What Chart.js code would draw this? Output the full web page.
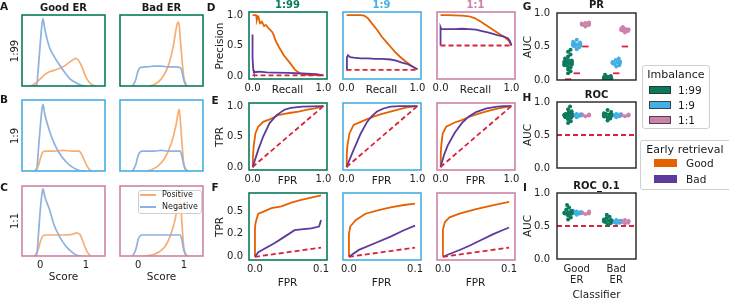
<!DOCTYPE html>
<html><head><meta charset="utf-8">
<script src="https://cdn.jsdelivr.net/npm/chart.js@4/dist/chart.umd.min.js"></script>
<style>
html,body{margin:0;padding:0;background:#fff}
body{width:729px;height:299px;position:relative;overflow:hidden;font-family:'DejaVu Sans',sans-serif}
canvas{position:absolute}
.t{position:absolute;white-space:nowrap;color:#1a1a1a;line-height:1}
.lg{position:absolute;border:1px solid #cfcfcf;border-radius:3px;background:rgba(255,255,255,0.85);box-sizing:border-box}
.pt{position:absolute;box-sizing:border-box}
</style></head><body>
<script>
// ---------------- DATA ----------------
const imbalances = ['1:99', '1:9', '1:1'];
const classifiers = ['Good ER', 'Bad ER'];
const retrieval = ['Good', 'Bad'];
const scoreTicks = [0, 1];

// A-C: score distributions (x = score, y = relative density)
const negGood99X = [-0.14,-0.08,-0.04,0.0,0.04,0.06,0.1,0.2,0.3,0.42,0.55,0.65,0.8,0.9,1.0];
const negGood99Y = [0,0.01,0.27,0.6,0.88,0.95,0.8,0.55,0.42,0.3,0.18,0.1,0.04,0.01,0];
const posGood99X = [-0.2,-0.1,0.0,0.1,0.2,0.3,0.43,0.55,0.65,0.72,0.78,0.83,0.9,1.0,1.08,1.16,1.22];
const posGood99Y = [0,0.04,0.1,0.16,0.2,0.22,0.25,0.29,0.34,0.37,0.39,0.37,0.29,0.13,0.05,0.01,0];
const negBad99X = [-0.12,-0.05,0.0,0.05,0.2,0.35,0.5,0.65,0.8,0.92,0.96,1.0,1.05];
const negBad99Y = [0,0.1,0.22,0.26,0.27,0.28,0.28,0.27,0.27,0.26,0.2,0.08,0];
const posBad99X = [0.25,0.35,0.45,0.55,0.65,0.72,0.78,0.83,0.87,0.9,0.93,0.97,1.0,1.05,1.1];
const posBad99Y = [0,0.02,0.06,0.14,0.27,0.42,0.6,0.8,0.9,0.85,0.6,0.3,0.12,0.02,0];

const negGood9X = [-0.14,-0.08,-0.04,0.0,0.04,0.06,0.1,0.2,0.3,0.42,0.55,0.65,0.8,0.9,1.0];
const negGood9Y = [0,0.01,0.3,0.62,0.88,0.94,0.8,0.57,0.4,0.25,0.14,0.08,0.02,0,0];
const posGood9X = [-0.12,-0.04,0.0,0.05,0.1,0.3,0.5,0.7,0.85,0.92,1.0,1.08,1.12];
const posGood9Y = [0,0.08,0.17,0.26,0.28,0.28,0.29,0.28,0.28,0.22,0.1,0.02,0];
const negBad9X = [-0.12,-0.05,0.0,0.08,0.2,0.35,0.5,0.65,0.8,0.92,0.96,1.0,1.05];
const negBad9Y = [0,0.1,0.22,0.28,0.28,0.28,0.29,0.28,0.28,0.28,0.2,0.08,0];
const posBad9X = [0.2,0.3,0.45,0.58,0.72,0.82,0.87,0.9,0.93,0.97,1.0,1.05,1.1];
const posBad9Y = [0,0.02,0.08,0.18,0.38,0.62,0.8,0.87,0.65,0.3,0.1,0.02,0];

const negGood1X = [-0.14,-0.08,-0.04,0.0,0.04,0.06,0.1,0.2,0.3,0.42,0.55,0.65,0.8,0.9];
const negGood1Y = [0,0.01,0.3,0.65,0.9,0.96,0.85,0.67,0.45,0.28,0.15,0.08,0.01,0];
const posGood1X = [-0.12,-0.04,0.0,0.05,0.1,0.3,0.5,0.7,0.8,0.88,0.95,1.02,1.1];
const posGood1Y = [0,0.1,0.2,0.28,0.3,0.3,0.3,0.31,0.33,0.3,0.18,0.07,0];
const negBad1X = [-0.12,-0.05,0.0,0.08,0.2,0.35,0.5,0.65,0.8,0.92,0.96,1.0,1.05];
const negBad1Y = [0,0.1,0.24,0.3,0.3,0.3,0.3,0.3,0.3,0.3,0.22,0.08,0];
const posBad1X = [0.15,0.37,0.58,0.72,0.82,0.87,0.9,0.93,0.97,1.0,1.05,1.1];
const posBad1Y = [0,0.03,0.13,0.32,0.56,0.78,0.9,0.75,0.35,0.12,0.02,0];

// D: precision-recall curves
const prGood99R = [0,0.05,0.06,0.07,0.083,0.1,0.107,0.13,0.15,0.163,0.19,0.227,0.274,0.297,0.32,0.37,0.44,0.53,0.6,0.67,0.77,0.9,1.0];
const prGood99P = [1,1,0.92,0.96,0.974,0.88,0.864,0.89,0.85,0.82,0.836,0.78,0.727,0.674,0.59,0.48,0.34,0.21,0.1,0.04,0.02,0.012,0.01];
const prBad99R = [0,0,0.01,0.02,0.05,0.1,0.2,0.3,0.5,0.7,0.9,1.0];
const prBad99P = [0.68,0.3,0.1,0.06,0.065,0.07,0.06,0.055,0.05,0.04,0.03,0.01];
const prGood9R = [0,0.1,0.2,0.25,0.3,0.36,0.43,0.5,0.56,0.62,0.68,0.75,0.82,0.9,0.95,1.0];
const prGood9P = [1,1,1,0.99,0.95,0.86,0.76,0.64,0.56,0.48,0.4,0.32,0.25,0.18,0.14,0.11];
const prBad9R = [0,0.005,0.02,0.05,0.1,0.2,0.3,0.4,0.5,0.62,0.7,0.78,0.85,0.92,1.0];
const prBad9P = [0.1,0.3,0.34,0.31,0.3,0.29,0.29,0.28,0.28,0.27,0.25,0.22,0.2,0.16,0.11];
const prGood1R = [0,0.1,0.2,0.3,0.4,0.48,0.57,0.66,0.75,0.83,0.9,0.96,1.0];
const prGood1P = [1,1,0.995,0.99,0.98,0.95,0.89,0.82,0.75,0.69,0.64,0.58,0.5];
const prBad1R = [0,0,0.01,0.1,0.2,0.3,0.4,0.5,0.57,0.68,0.8,0.88,0.95,0.98,1.0];
const prBad1P = [0.5,0.8,0.77,0.77,0.77,0.775,0.77,0.76,0.74,0.71,0.67,0.65,0.62,0.57,0.5];
const prBaseline = [0.01, 0.1, 0.5];

// E: ROC curves
const rocGood99F = [0,0.005,0.015,0.04,0.08,0.15,0.24,0.36,0.45,0.54,0.65,0.77,0.88,1.0];
const rocGood99T = [0,0.15,0.33,0.55,0.66,0.74,0.78,0.85,0.87,0.89,0.91,0.94,0.96,1.0];
const rocBad99F = [0,0.03,0.08,0.15,0.24,0.34,0.4,0.45,0.54,0.7,0.85,1.0];
const rocBad99T = [0,0.1,0.28,0.5,0.72,0.85,0.9,0.94,0.97,0.99,0.995,1.0];
const rocGood9F = [0,0.003,0.01,0.04,0.1,0.2,0.3,0.39,0.5,0.62,0.75,0.85,1.0];
const rocGood9T = [0,0.2,0.33,0.55,0.69,0.74,0.79,0.83,0.87,0.91,0.95,0.98,1.0];
const rocBad9F = [0,0.05,0.1,0.2,0.29,0.36,0.43,0.52,0.62,0.75,0.9,1.0];
const rocBad9T = [0,0.14,0.28,0.55,0.74,0.84,0.91,0.96,0.99,1.0,1.0,1.0];
const rocGood1F = [0,0.003,0.01,0.03,0.08,0.2,0.3,0.4,0.55,0.7,0.85,1.0];
const rocGood1T = [0,0.2,0.35,0.55,0.66,0.73,0.77,0.82,0.88,0.93,0.97,1.0];
const rocBad1F = [0,0.05,0.1,0.2,0.3,0.4,0.5,0.65,0.8,0.9,1.0];
const rocBad1T = [0,0.2,0.35,0.56,0.72,0.83,0.9,0.96,0.99,1.0,1.0];
const rocDiag = [0, 1];

// F: early ROC (FPR up to 0.1)
const eGood99F = [0,0,0.0005,0.002,0.005,0.012,0.025,0.04,0.055,0.07,0.09,0.1];
const eGood99T = [0,0.29,0.35,0.4,0.47,0.49,0.53,0.55,0.59,0.62,0.655,0.67];
const eBad99F = [0,0.005,0.015,0.03,0.045,0.06,0.07,0.085,0.097,0.1];
const eBad99T = [0,0.05,0.09,0.15,0.22,0.29,0.3,0.31,0.33,0.4];
const eGood9F = [0,0,0.002,0.01,0.025,0.045,0.063,0.083,0.1];
const eGood9T = [0,0.25,0.33,0.4,0.47,0.51,0.54,0.565,0.58];
const eBad9F = [0,0.015,0.04,0.063,0.083,0.1];
const eBad9T = [0,0.075,0.15,0.22,0.29,0.34];
const eGood1F = [0,0,0.003,0.01,0.025,0.05,0.075,0.1];
const eGood1T = [0,0.3,0.38,0.43,0.47,0.52,0.56,0.6];
const eBad1F = [0,0.01,0.027,0.04,0.057,0.077,0.09,0.1];
const eBad1T = [0,0.03,0.08,0.12,0.18,0.25,0.29,0.32];
const eDiag = [0, 0.1];
const eYTicks = [0, 0.25, 0.5];
const eYLabels = ['0.0', '0.2', '0.5'];

// G-I: AUC per replicate (per classifier, per imbalance)
const aucPR = {
  good: [[0.10,0.13,0.16,0.19,0.21,0.22,0.23,0.235,0.24,0.245,0.25,0.255,0.26,0.265,0.27,0.275,0.28,0.29,0.30,0.32,0.35,0.38,0.42,0.45],
         [0.46,0.49,0.5,0.51,0.52,0.52,0.53,0.53,0.54,0.54,0.55,0.56,0.57,0.6],
         [0.80,0.82,0.825,0.83,0.83,0.835,0.84,0.845,0.85,0.86]],
  bad:  [[0.0,0.01,0.015,0.02,0.02,0.025,0.03,0.035,0.04,0.05,0.06,0.08],
         [0.2,0.22,0.24,0.25,0.25,0.26,0.26,0.27,0.27,0.28,0.3,0.32],
         [0.71,0.73,0.74,0.745,0.75,0.75,0.755,0.76,0.77,0.79]]
};
const aucROC = {
  good: [[0.68,0.71,0.74,0.76,0.77,0.78,0.79,0.795,0.8,0.8,0.805,0.81,0.82,0.83,0.84,0.86,0.89,0.93],
         [0.77,0.79,0.795,0.8,0.8,0.805,0.81,0.82],
         [0.785,0.795,0.8,0.8,0.805,0.81,0.815]],
  bad:  [[0.72,0.75,0.77,0.78,0.79,0.795,0.8,0.8,0.805,0.81,0.82,0.83,0.85,0.88],
         [0.77,0.785,0.795,0.8,0.8,0.805,0.81,0.82],
         [0.785,0.795,0.8,0.8,0.805,0.81,0.815]]
};
const aucROC01 = {
  good: [[0.6,0.63,0.66,0.68,0.69,0.695,0.7,0.7,0.705,0.71,0.72,0.73,0.75,0.78,0.82],
         [0.67,0.69,0.695,0.7,0.7,0.705,0.71,0.72,0.73],
         [0.68,0.69,0.695,0.7,0.7,0.705,0.71,0.72]],
  bad:  [[0.52,0.54,0.56,0.57,0.575,0.58,0.58,0.585,0.59,0.6,0.62,0.64,0.67],
         [0.54,0.55,0.56,0.565,0.57,0.57,0.575,0.58,0.59],
         [0.54,0.55,0.56,0.565,0.57,0.575,0.58,0.59]]
};
const aucTicks = [0, 0.5, 1];
const rocChance = 0.5;

// ---------------- STYLE ----------------
const IMB_COL = ['#0b7a5c', '#45aee3', '#cc82aa'];
const ORANGE = '#e66100', PURPLE = '#5d3a9b', RED = '#d9233a';
const NEG_COL = '#8fb1e0', POS_COL = '#f7ae74';

Chart.defaults.font.family = "'DejaVu Sans', sans-serif";
Chart.defaults.font.size = 10;
Chart.defaults.color = '#222';

function pts(xs, ys) { return xs.map((x, i) => ({x: x, y: ys[i]})); }
function lineDs(xs, ys, color, extra) {
  return Object.assign({data: pts(xs, ys), showLine: true, borderColor: color, backgroundColor: color,
    borderWidth: 1.8, pointRadius: 0, fill: false, tension: 0}, extra || {});
}
function framePlugin(color, lw) {
  return {id: 'frame', afterDatasetsDraw(c) {
    const a = c.chartArea, x = c.ctx; x.save(); x.strokeStyle = color; x.lineWidth = lw;
    x.strokeRect(a.left, a.top, a.right - a.left, a.bottom - a.top); x.restore();
  }};
}
function makeChart(cfg) {
  const padL = 44, padR = 16, padT = 6, padB = 34;
  const [l, t, w, h] = cfg.box;
  const cv = document.createElement('canvas');
  cv.width = w + padL + padR; cv.height = h + padT + padB;
  cv.style.left = (l - padL) + 'px'; cv.style.top = (t - padT) + 'px';
  cv.style.width = cv.width + 'px'; cv.style.height = cv.height + 'px';
  document.body.appendChild(cv);
  function axis(a, isX) {
    const tv = a.ticks || [];
    return {
      type: 'linear', min: a.min, max: a.max, position: isX ? 'bottom' : 'left',
      grid: {display: false, drawTicks: false}, border: {display: false},
      afterBuildTicks: s => { s.ticks = tv.map(v => ({value: v})); },
      ticks: {display: a.show !== false && tv.length > 0, padding: a.pad != null ? a.pad : (isX ? 3 : 6),
        autoSkip: false, maxRotation: 0, minRotation: 0, color: '#222',
        font: {size: 10, lineHeight: a.lh || 1.2},
        callback: (v, i) => a.fmt ? a.fmt(v, i) : String(v)},
      afterFit: s => { if (isX) s.height = padB; else s.width = padL;
        s.paddingLeft = 0; s.paddingRight = 0; s.paddingTop = 0; s.paddingBottom = 0; }
    };
  }
  return new Chart(cv, {
    type: 'scatter',
    data: {datasets: cfg.datasets},
    options: {responsive: false, animation: false, devicePixelRatio: 1, events: [],
      layout: {padding: {top: padT, right: padR, left: 0, bottom: 0}, autoPadding: false},
      plugins: {legend: {display: false}, tooltip: {enabled: false}, title: {display: false}},
      scales: {x: axis(cfg.x, true), y: axis(cfg.y, false)}},
    plugins: [framePlugin(cfg.frame, cfg.frameW || 1.6)]
  });
}
function txt(s, x, y, o) {
  o = o || {};
  const d = document.createElement('div'); d.className = 't'; d.textContent = s;
  d.style.left = x + 'px'; d.style.top = y + 'px';
  d.style.fontSize = (o.size || 10.5) + 'px';
  if (o.bold) d.style.fontWeight = 'bold';
  if (o.color) d.style.color = o.color;
  const tr = o.align === 'left' ? 'translate(0,-50%)' : 'translate(-50%,-50%)';
  d.style.transform = tr + (o.rot ? ' rotate(-90deg)' : '');
  document.body.appendChild(d);
  return d;
}
const f1 = v => v.toFixed(1);

// ---------------- A-C ----------------
const distSets = [
  [[negGood99X, negGood99Y, posGood99X, posGood99Y], [negBad99X, negBad99Y, posBad99X, posBad99Y]],
  [[negGood9X, negGood9Y, posGood9X, posGood9Y], [negBad9X, negBad9Y, posBad9X, posBad9Y]],
  [[negGood1X, negGood1Y, posGood1X, posGood1Y], [negBad1X, negBad1Y, posBad1X, posBad1Y]]
];
const distRows = [[15, 71], [100, 71], [186, 70]];
const distCols = [22, 120];
distSets.forEach((row, r) => {
  row.forEach((s, c) => {
    const smooth = {cubicInterpolationMode: 'monotone', borderWidth: 1.7};
    makeChart({box: [distCols[c], distRows[r][0], 83, distRows[r][1]], frame: IMB_COL[r],
      x: {min: -0.4, max: 1.42, ticks: r === 2 ? scoreTicks : [], fmt: v => String(v), pad: 3},
      y: {min: 0, max: 1, ticks: []},
      datasets: [lineDs(s[0], s[1], NEG_COL, smooth), lineDs(s[2], s[3], POS_COL, smooth)]});
  });
});

// ---------------- D-F ----------------
const colL = [248.5, 342.5, 436.5];
const prSets = [[prGood99R, prGood99P, prBad99R, prBad99P], [prGood9R, prGood9P, prBad9R, prBad9P], [prGood1R, prGood1P, prBad1R, prBad1P]];
const rocSets = [[rocGood99F, rocGood99T, rocBad99F, rocBad99T], [rocGood9F, rocGood9T, rocBad9F, rocBad9T], [rocGood1F, rocGood1T, rocBad1F, rocBad1T]];
const eSets = [[eGood99F, eGood99T, eBad99F, eBad99T], [eGood9F, eGood9T, eBad9F, eBad9T], [eGood1F, eGood1T, eBad1F, eBad1T]];
const dash = {borderDash: [5, 3], borderColor: RED, borderWidth: 1.8};
for (let i = 0; i < 3; i++) {
  const s = prSets[i];
  makeChart({box: [colL[i], 12, 78, 67], frame: IMB_COL[i],
    x: {min: -0.05, max: 1.05, ticks: [0, 1], fmt: f1},
    y: {min: -0.05, max: 1.05, ticks: [0, 0.5, 1], fmt: f1, show: i === 0},
    datasets: [lineDs([0, 1], [prBaseline[i], prBaseline[i]], RED, dash), lineDs(s[2], s[3], PURPLE), lineDs(s[0], s[1], ORANGE)]});
  const q = rocSets[i];
  makeChart({box: [colL[i], 103, 78, 67], frame: IMB_COL[i],
    x: {min: -0.05, max: 1.05, ticks: [0, 1], fmt: f1},
    y: {min: -0.05, max: 1.05, ticks: [0, 0.5, 1], fmt: f1, show: i === 0},
    datasets: [lineDs(rocDiag, rocDiag, RED, dash), lineDs(q[2], q[3], PURPLE), lineDs(q[0], q[1], ORANGE)]});
  const e = eSets[i];
  makeChart({box: [colL[i], 193, 78, 67], frame: IMB_COL[i],
    x: {min: -0.009, max: 0.109, ticks: [0, 0.1], fmt: f1},
    y: {min: -0.035, max: 0.696, ticks: eYTicks, fmt: (v, k) => eYLabels[k], show: i === 0},
    datasets: [lineDs(eDiag, eDiag, RED, dash), lineDs(e[2], e[3], PURPLE), lineDs(e[0], e[1], ORANGE)]});
}

// ---------------- G-I ----------------
const HUE_OFF = [-0.22, 0, 0.22];
const SW_R = 2.0, SW_LIM = 3.6, SW_SEP = 1.6;
function swarmChart(box, auc, kind, showX) {
  const groups = [], datasets = [];
  ['good', 'bad'].forEach((k, ci) => {
    auc[k].forEach((vals, hi) => {
      groups.push({ds: datasets.length, center: ci + HUE_OFF[hi], values: vals});
      datasets.push({data: [], backgroundColor: IMB_COL[hi], borderWidth: 0, pointRadius: SW_R, clip: 0});
    });
  });
  if (kind === 'pr') {
    const bx = [], by = [];
    [0, 1].forEach(ci => prBaseline.forEach((b, hi) => { bx.push(ci + HUE_OFF[hi]); by.push(b); }));
    datasets.push({data: pts(bx, by), pointStyle: 'line', pointRadius: 3.2, borderColor: RED, borderWidth: 1.8, showLine: false});
  } else {
    datasets.push(lineDs([-0.5, 1.5], [rocChance, rocChance], RED, dash));
  }
  const ch = makeChart({box: box, frame: '#222', frameW: 1.4,
    x: {min: -0.5, max: 1.5, ticks: showX ? [0, 1] : [], fmt: v => v < 0.5 ? ['Good', 'ER'] : ['Bad', 'ER'], pad: 5, lh: 1.08},
    y: {min: 0, max: 1, ticks: aucTicks, fmt: f1, pad: 7},
    datasets: datasets});
  const xs = ch.scales.x, ys = ch.scales.y, d = SW_SEP * SW_R;
  groups.forEach(g => {
    const cx = xs.getPixelForValue(g.center);
    const P = g.values.map(v => ({v: v, py: ys.getPixelForValue(v), off: 0})).sort((a, b) => b.py - a.py);
    const placed = [];
    P.forEach(p => {
      let best = null;
      for (let k = 0; k < 80 && best === null; k++) {
        const cands = k === 0 ? [0] : [k * 0.25, -k * 0.25];
        for (const off of cands) {
          if (placed.every(q => (off - q.off) ** 2 + (p.py - q.py) ** 2 >= d * d)) { best = off; break; }
        }
      }
      p.off = best === null ? 0 : best; placed.push(p);
    });
    ch.data.datasets[g.ds].data = P.map(p => ({x: xs.getValueForPixel(cx + Math.max(-SW_LIM, Math.min(SW_LIM, p.off))), y: p.v}));
  });
  ch.update('none');
}
swarmChart([557, 13, 79, 67], aucPR, 'pr', false);
swarmChart([557, 102, 79, 66], aucROC, 'roc', false);
swarmChart([557, 193, 79, 66], aucROC01, 'roc', true);

// ---------------- TEXT ----------------
txt('A', 4, 6, {bold: true}); txt('B', 4, 99, {bold: true}); txt('C', 4, 187, {bold: true});
txt('D', 211, 7, {bold: true}); txt('E', 215, 100, {bold: true}); txt('F', 215, 187, {bold: true});
txt('G', 527, 6, {bold: true}); txt('H', 527, 97, {bold: true}); txt('I', 525, 187, {bold: true});
txt(classifiers[0], 63.5, 8, {bold: true, size: 10}); txt(classifiers[1], 161.5, 8, {bold: true, size: 10});
txt(imbalances[0], 15, 50.5, {rot: true, size: 10}); txt(imbalances[1], 15, 135.5, {rot: true, size: 10}); txt(imbalances[2], 15, 221, {rot: true, size: 10});
txt('Score', 63.5, 276); txt('Score', 161.5, 276);
for (let i = 0; i < 3; i++) {
  const cx = colL[i] + 39;
  txt(imbalances[i], cx, 5, {bold: true, size: 10, color: IMB_COL[i]});
  txt('Recall', cx, 88.5);
  txt('FPR', cx, 179.5);
  txt('FPR', cx, 282);
}
txt('Precision', 218.5, 45.5, {rot: true}); txt('TPR', 218.5, 136.5, {rot: true}); txt('TPR', 218.5, 226.5, {rot: true});
txt('PR', 596.5, 5, {bold: true, size: 10}); txt('ROC', 596.5, 94.5, {bold: true, size: 10}); txt('ROC_0.1', 596.5, 186, {bold: true, size: 10});
txt('AUC', 527, 46.5, {rot: true}); txt('AUC', 527, 135, {rot: true}); txt('AUC', 527, 226, {rot: true});
txt('Classifier', 596.5, 294);

// legend inside C / Bad ER
function box(l, t, w, h) { const d = document.createElement('div'); d.className = 'lg';
  d.style.left = l + 'px'; d.style.top = t + 'px'; d.style.width = w + 'px'; d.style.height = h + 'px'; document.body.appendChild(d); }
function patch(l, t, w, h, col, edge) { const d = document.createElement('div'); d.className = 'pt';
  d.style.left = l + 'px'; d.style.top = t + 'px'; d.style.width = w + 'px'; d.style.height = h + 'px';
  d.style.background = col; if (edge) d.style.border = '1px solid ' + edge; document.body.appendChild(d); }
box(137.5, 189.5, 64, 24.5);
patch(140, 194.3, 16, 1.8, POS_COL); txt('Positive', 162, 195.2, {size: 8, align: 'left'});
patch(140, 205.8, 16, 1.8, NEG_COL); txt('Negative', 162, 206.7, {size: 8, align: 'left'});

// Imbalance legend
box(642, 65, 68, 63.5);
txt('Imbalance', 676, 73.5, {size: 11});
const imbY = [89.7, 105, 120.3];
imbalances.forEach((s, i) => { patch(649, imbY[i] - 4, 22, 8, IMB_COL[i], 'rgba(40,40,40,0.75)'); txt(s, 678, imbY[i], {size: 10.5, align: 'left'}); });
// Early retrieval legend
box(639.5, 140, 94, 49.5);
txt('Early retrieval', 685, 149, {size: 11});
patch(654, 159.3, 23, 8, ORANGE); txt(retrieval[0], 686, 163.3, {size: 10.5, align: 'left'});
patch(654, 175, 23, 8, PURPLE); txt(retrieval[1], 686, 179, {size: 10.5, align: 'left'});
</script>
</body></html>
